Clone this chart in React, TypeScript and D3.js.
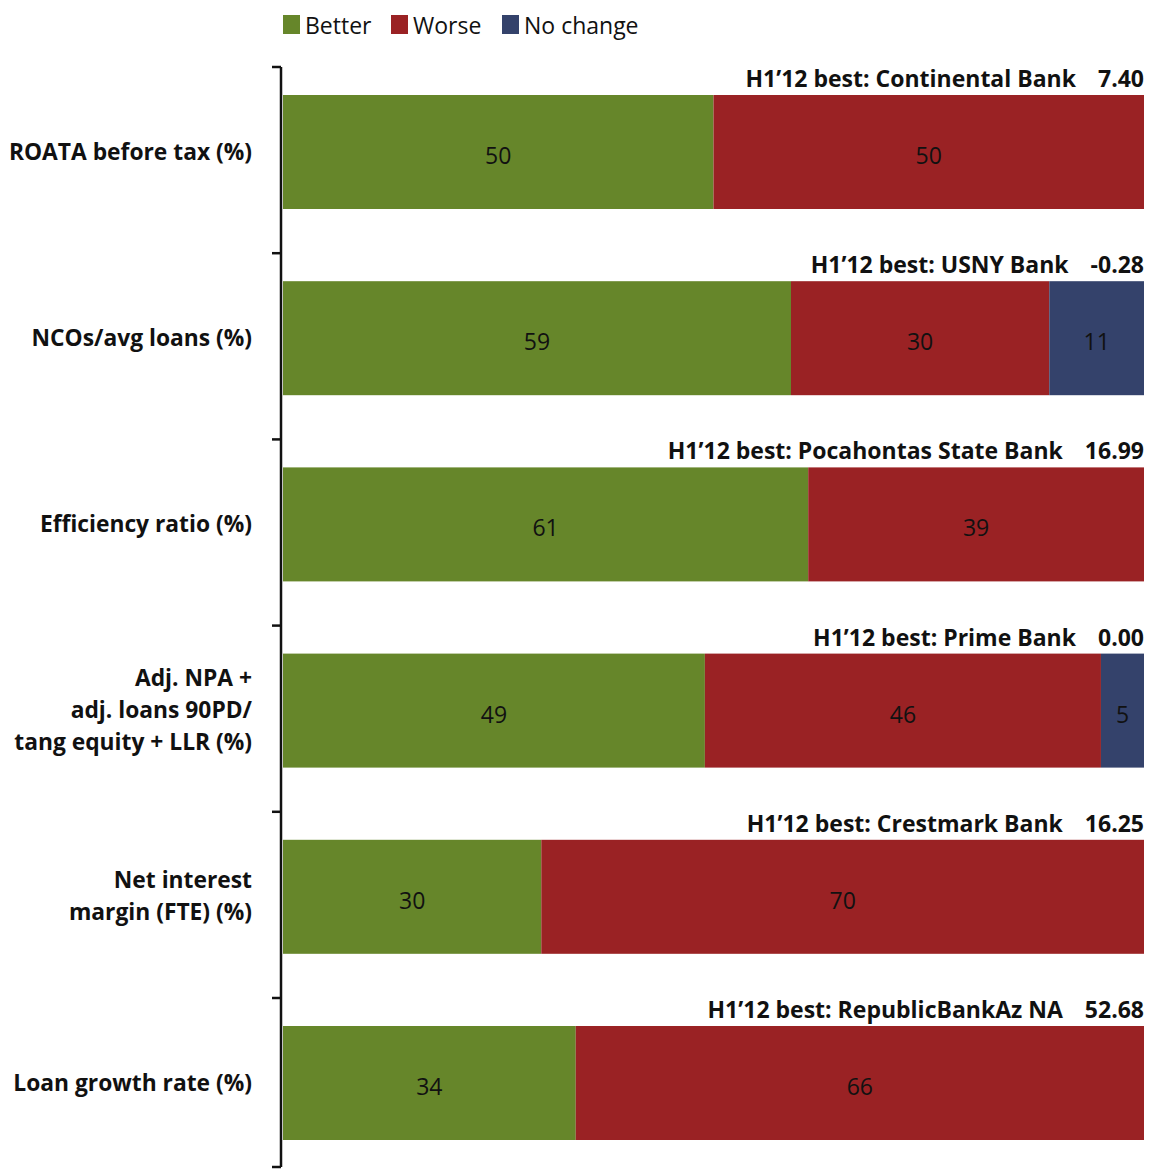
import React from 'react';
import * as d3 from 'd3';

const categories = [
  'ROATA before tax (%)',
  'NCOs/avg loans (%)',
  'Efficiency ratio (%)',
  'Adj. NPA +\nadj. loans 90PD/\ntang equity + LLR (%)',
  'Net interest\nmargin (FTE) (%)',
  'Loan growth rate (%)',
];
const better = [50, 59, 61, 49, 30, 34];
const worse = [50, 30, 39, 46, 70, 66];
const noChange = [0, 11, 0, 5, 0, 0];
const bestBank = [
  'Continental Bank',
  'USNY Bank',
  'Pocahontas State Bank',
  'Prime Bank',
  'Crestmark Bank',
  'RepublicBankAz NA',
];
const bestValue = ['7.40', '-0.28', '16.99', '0.00', '16.25', '52.68'];

const seriesNames = ['Better', 'Worse', 'No change'];
const seriesColors = ['#66862a', '#9a2224', '#34426b'];

const W = 1150;
const H = 1176;
const FONT = "'Open Sans', 'Noto Sans', sans-serif";

const App: React.FC = () => {
  const x = d3.scaleLinear().domain([0, 100]).range([283, 1144]);
  const y = d3.scaleBand<string>().domain(categories).range([67, 67 + 186.2 * 6]);
  const barOffset = 28;
  const barH = 114;
  const axisX = 281;

  const rows = categories.map((c, i) => {
    const vals = [better[i], worse[i], noChange[i]];
    let acc = 0;
    const segs = vals.map((v, k) => {
      const s = { x0: acc, x1: acc + v, v, k };
      acc += v;
      return s;
    });
    return { c, i, segs };
  });

  const legendX = [283, 391, 502];

  return (
    <svg
      width={W}
      height={H}
      style={{ position: 'absolute', left: 0, top: 0 }}
      fontFamily={FONT}
    >
      {/* legend */}
      {seriesNames.map((n, k) => (
        <g key={n} transform={`translate(${legendX[k]},15)`}>
          <rect width={17} height={19} fill={seriesColors[k]} />
          <text x={22} y={19} fontSize={23} fill="#111">
            {n}
          </text>
        </g>
      ))}

      {rows.map(({ c, i, segs }) => {
        const top = y(c)!;
        const by = top + barOffset;
        const lines = c.split('\n');
        const cy = by + barH / 2;
        return (
          <g key={c}>
            {segs
              .filter((s) => s.v > 0)
              .map((s) => (
                <g key={s.k}>
                  <rect
                    x={x(s.x0)}
                    y={by}
                    width={x(s.x1) - x(s.x0)}
                    height={barH}
                    fill={seriesColors[s.k]}
                  />
                  <text
                    x={(x(s.x0) + x(s.x1)) / 2}
                    y={cy + 3}
                    textAnchor="middle"
                    dominantBaseline="central"
                    fontSize={23}
                    fill="#111"
                  >
                    {s.v}
                  </text>
                </g>
              ))}
            <text
              x={1144}
              y={top + 20}
              textAnchor="end"
              fontSize={23}
              fontWeight="bold"
              fill="#111"
            >
              <tspan>{`H1\u201912 best: ${bestBank[i]}`}</tspan>
              <tspan dx={22}>{bestValue[i]}</tspan>
            </text>
            <text
              x={252}
              textAnchor="end"
              fontSize={22.8}
              fontWeight="bold"
              fill="#111"
            >
              {lines.map((l, j) => (
                <tspan
                  key={j}
                  x={252}
                  y={cy - 1 + (j - (lines.length - 1) / 2) * 32}
                  dominantBaseline="central"
                >
                  {l}
                </tspan>
              ))}
            </text>
            <line x1={272} x2={axisX} y1={top} y2={top} stroke="#111" strokeWidth={2.5} />
          </g>
        );
      })}

      {/* axis */}
      <line x1={axisX} x2={axisX} y1={67} y2={1167} stroke="#111" strokeWidth={2.5} />
      <line x1={272} x2={axisX} y1={1167} y2={1167} stroke="#111" strokeWidth={2.5} />
    </svg>
  );
};

export default App;
